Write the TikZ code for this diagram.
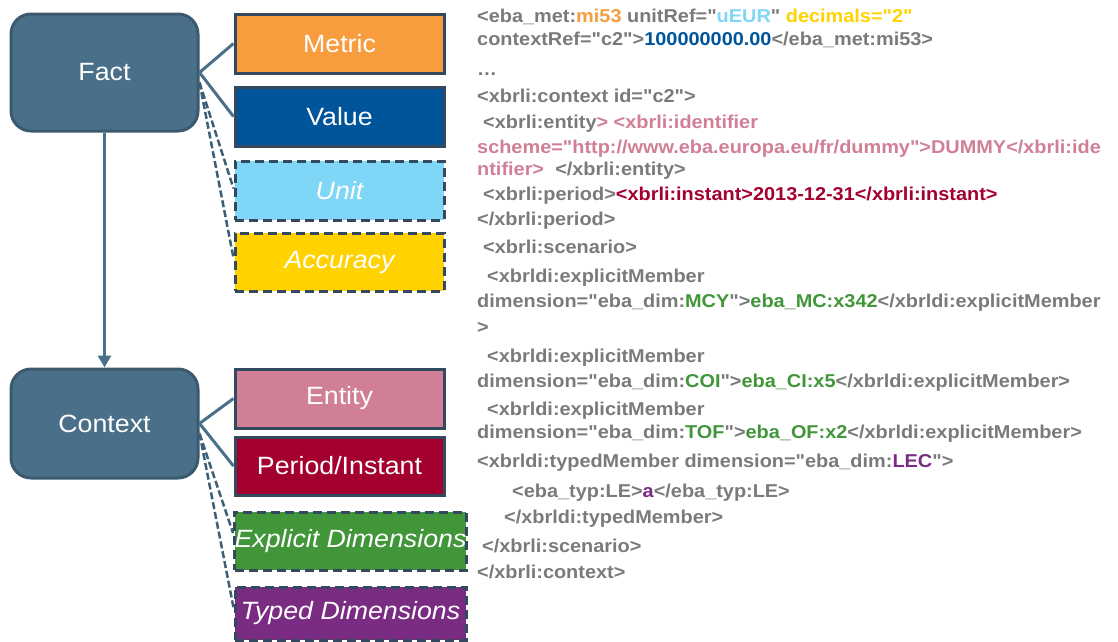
\documentclass[tikz,border=0pt]{standalone}
\usepackage{fontspec}
\setmainfont{Liberation Sans}[FakeStretch=1.07]
\newfontfamily\codefont{Liberation Sans}[FakeStretch=1.07]
\usetikzlibrary{arrows.meta}
\definecolor{factfill}{HTML}{4A7089}
\definecolor{factborder}{HTML}{3B5A70}
\definecolor{boxborder}{HTML}{34495E}
\definecolor{conn}{HTML}{4A7089}
\definecolor{dconn}{HTML}{3C5F78}
\definecolor{cmetric}{HTML}{F79D3D}
\definecolor{cvalue}{HTML}{00549A}
\definecolor{cunit}{HTML}{7FD6F7}
\definecolor{cacc}{HTML}{FFD200}
\definecolor{centity}{HTML}{D07F96}
\definecolor{cperiod}{HTML}{A3002F}
\definecolor{cexpl}{HTML}{41963A}
\definecolor{ctyped}{HTML}{7A2B82}
\definecolor{codegray}{HTML}{7A7A7A}
\newcommand\cO[1]{\textcolor{cmetric}{#1}}
\newcommand\cU[1]{\textcolor{cunit}{#1}}
\newcommand\cY[1]{\textcolor{cacc}{#1}}
\newcommand\cB[1]{\textcolor{cvalue}{#1}}
\newcommand\cP[1]{\textcolor{centity}{#1}}
\newcommand\cR[1]{\textcolor{cperiod}{#1}}
\newcommand\cG[1]{\textcolor{cexpl}{#1}}
\newcommand\cV[1]{\textcolor{ctyped}{#1}}
\tikzset{
  mainbox/.style={draw=factborder, fill=factfill, line width=3pt, rounded corners=20pt,
    minimum width=187pt, text=white, font=\fontsize{25}{30}\selectfont, inner sep=0pt},
  cbox/.style={draw=boxborder, line width=3pt, minimum width=209pt, minimum height=59pt,
    inner sep=0pt, text=white, font=\fontsize{25}{30}\selectfont},
  dbox/.style={cbox, dash pattern=on 9pt off 5pt, font=\fontsize{25}{30}\selectfont\itshape},
  solidconn/.style={draw=conn, line width=3pt},
  dashconn/.style={draw=dconn, line width=2.5pt, dash pattern=on 7pt off 3pt},
  code/.style={anchor=base west, inner sep=0pt, text=codegray,
    font=\codefont\fontsize{18.6}{22}\selectfont\bfseries},
}
\begin{document}
\begin{tikzpicture}[x=1pt,y=-1pt]
\useasboundingbox (0,0) rectangle (1118,641);
% main boxes
\node[mainbox, minimum height=117pt] (fact) at (104.5,72.5) {Fact};
\node[mainbox, minimum height=109pt] (context) at (104.5,423.5) {Context};
% fact attributes
\node[cbox, fill=cmetric] (metric) at (339.5,43.5) {Metric};
\node[cbox, fill=cvalue] (value) at (339.5,116.5) {Value};
\node[dbox, fill=cunit] (unit) at (339.5,190.5) {Unit};
\node[dbox, fill=cacc, minimum height=58pt] (acc) at (339.5,262) {Accuracy};
% context attributes
\node[cbox, fill=centity] (entity) at (339.5,398.5) {Entity};
\node[cbox, fill=cperiod, minimum height=58pt] (period) at (339.5,466) {Period/Instant};
\node[dbox, fill=cexpl, minimum width=231pt, minimum height=58pt] (expl) at (350.5,541) {Explicit Dimensions};
\node[dbox, fill=ctyped, minimum width=231pt, minimum height=53pt] (typed) at (350.5,613.5) {Typed Dimensions};
% connectors
\draw[solidconn] (fact.east) -- (metric.west);
\draw[solidconn] (fact.east) -- (value.west);
\draw[dashconn] ([yshift=-10pt]fact.east) -- ([yshift=2pt]unit.west);
\draw[dashconn] ([yshift=-10pt]fact.east) -- ([yshift=4pt]acc.west);
\draw[solidconn] (context.east) -- (entity.west);
\draw[solidconn] (context.east) -- (period.west);
\draw[dashconn] ([yshift=-10pt]context.east) -- ([yshift=8pt]expl.west);
\draw[dashconn] ([yshift=-10pt]context.east) -- ([yshift=6pt]typed.west);
\draw[solidconn, -{Triangle[width=13pt,length=12pt]}] (fact.south) -- (context.north);
% code
\node[code] (c1) at (477,22) {<eba\_met:\cO{mi53} unitRef="\cU{uEUR}" \cY{decimals="2"}};
\node[code] (c2) at (477,45) {contextRef="c2">\cB{100000000.00}</eba\_met:mi53>};
\node[code] (c3) at (477,75) {…};
\node[code] (c4) at (477,102) {<xbrli:context id="c2">};
\node[code] (c5) at (483,128) {<xbrli:entity\cP{> <xbrli:identifier}};
\node[code] (c6) at (477,153) {\cP{scheme="http://www.eba.europa.eu/fr/dummy">DUMMY</xbrli:ide}};
\node[code] (c7) at (477,175) {\cP{ntifier>}\hspace{0.6em}</xbrli:entity>};
\node[code] (c8) at (483,200) {<xbrli:period>\cR{<xbrli:instant>2013-12-31</xbrli:instant>}};
\node[code] (c9) at (477,225) {</xbrli:period>};
\node[code] (c10) at (483,253) {<xbrli:scenario>};
\node[code] (c11) at (487,282) {<xbrldi:explicitMember};
\node[code] (c12) at (477,307) {dimension="eba\_dim:\cG{MCY}">\cG{eba\_MC:x342}</xbrldi:explicitMember};
\node[code] (c13) at (477,333) {>};
\node[code] (c14) at (487,362) {<xbrldi:explicitMember};
\node[code] (c15) at (477,387) {dimension="eba\_dim:\cG{COI}">\cG{eba\_CI:x5}</xbrldi:explicitMember>};
\node[code] (c16) at (487,415) {<xbrldi:explicitMember};
\node[code] (c17) at (477,438) {dimension="eba\_dim:\cG{TOF}">\cG{eba\_OF:x2}</xbrldi:explicitMember>};
\node[code] (c18) at (477,467) {<xbrldi:typedMember dimension="eba\_dim:\cV{LEC}">};
\node[code] (c19) at (512,497) {<eba\_typ:LE>\cV{a}</eba\_typ:LE>};
\node[code] (c20) at (504,523) {</xbrldi:typedMember>};
\node[code] (c21) at (482,552) {</xbrli:scenario>};
\node[code] (c22) at (477,578) {</xbrli:context>};
\end{tikzpicture}
\end{document}
